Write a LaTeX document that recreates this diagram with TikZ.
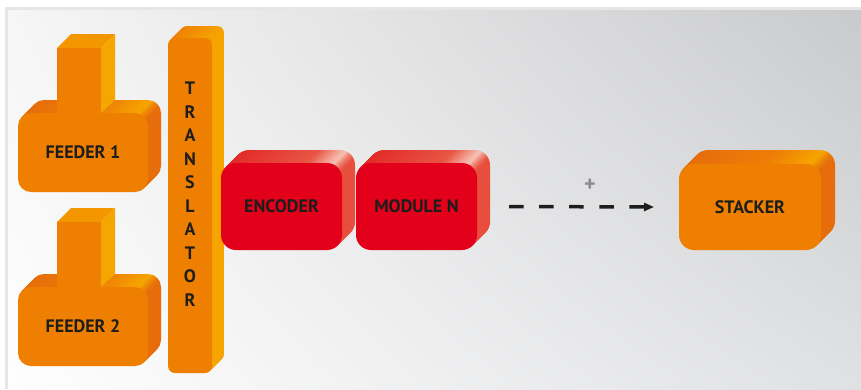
\documentclass[tikz,border=0pt]{standalone}
\usepackage{fontspec}
\setmainfont{PT Sans}
\usetikzlibrary{arrows.meta,positioning,calc,shadings}

\definecolor{ink}{RGB}{29,29,27}
\definecolor{plusGray}{RGB}{140,140,140}
\definecolor{orFront}{RGB}{239,127,0}
\definecolor{orDark}{RGB}{230,108,12}
\definecolor{orMid}{RGB}{238,126,6}
\definecolor{orLight}{RGB}{246,165,0}
\definecolor{stemTop}{RGB}{243,150,0}
\definecolor{stemSide}{RGB}{246,166,0}
\definecolor{rdFront}{RGB}{226,0,26}
\definecolor{rdDark}{RGB}{226,38,36}
\definecolor{rdMid}{RGB}{232,86,68}
\definecolor{rdLight}{RGB}{246,192,178}
\definecolor{rdSide}{RGB}{232,78,60}
\definecolor{frameGray}{RGB}{230,230,230}
\definecolor{bgTL}{RGB}{246,246,246}
\definecolor{bgTR}{RGB}{201,202,204}
\definecolor{bgBL}{RGB}{254,254,254}
\definecolor{bgBR}{RGB}{224,225,227}

\pgfdeclarehorizontalshading{orSide}{100bp}{color(0bp)=(orDark); color(25bp)=(orDark); color(55bp)=(orMid); color(71bp)=(orLight); color(74bp)=(orDark); color(100bp)=(orDark)}
\pgfdeclarehorizontalshading{rdSideSh}{100bp}{color(0bp)=(rdDark); color(25bp)=(rdDark); color(60bp)=(rdMid); color(71bp)=(rdLight); color(74bp)=(rdSide); color(100bp)=(rdSide)}
\pgfdeclarehorizontalshading{trSide}{100bp}{color(0bp)=(orMid); color(25bp)=(orMid); color(75bp)=(orLight); color(100bp)=(orLight)}

\pgfdeclarelayer{panel}
\pgfdeclarelayer{depth}
\pgfsetlayers{panel,depth,main}

% stacked copies behind a front face
\newcommand\extrude[4]{%
  \foreach \k in {#2,...,1}
    \shade[shading=#3, rounded corners=#4]
      ([shift={(\k,-\k)}]#1.south west) rectangle ([shift={(\k,-\k)}]#1.north east);}

\newcommand\stemfaces[1]{%
  \fill[stemTop] (#1.north west) -- ++(14,-14) -- ++(44,0) -- (#1.north east) -- cycle;
  \fill[stemSide] (#1.north east) -- ++(14,-14) -- ++(0,66) -- (#1.south east) -- cycle;}

\begin{document}
\begin{tikzpicture}[
  x=1pt, y=-1pt,
  lbl/.style={font=\bfseries\fontsize{18}{21}\selectfont, text=ink},
  face/.style={lbl, inner sep=0pt, outer sep=0pt, rounded corners=#1},
  orbox/.style={face=13pt, fill=orFront},
  redbox/.style={face=15pt, fill=rdFront, minimum width=121pt, minimum height=87pt},
  stembox/.style={fill=orFront, inner sep=0pt, outer sep=0pt,
    minimum width=44pt, minimum height=65pt},
  flow/.style={draw=ink, line width=3.5pt, dash pattern=on 14.5pt off 15.6pt,
    -{Triangle[length=10pt,width=8pt]}}
]
\useasboundingbox (0,0) rectangle (861,389);

\node[orbox, minimum width=130pt, minimum height=79pt] (feed1) at (83,152.5) {FEEDER 1};
\node[stembox] (stem1) at (79,80.5) {};
\node[orbox, minimum width=130pt, minimum height=79pt] (feed2) at (83,326.5) {FEEDER 2};
\node[stembox] (stem2) at (79,254.5) {};

\node[face=7pt, fill=orFront, minimum width=44pt, minimum height=335pt] (trans) at (190,205.5) {};
\node[lbl, align=center, font=\bfseries\fontsize{18}{23.5}\selectfont] (translbl) at (190,194)
  {T\\R\\A\\N\\S\\L\\A\\T\\O\\R};

\node[redbox] (enc) at (281.5,206.5) {ENCODER};
\node[redbox, right=14pt of enc] (modn) {MODULE N};
\node[face=15pt, fill=orFront, minimum width=142pt, minimum height=86pt] (stack) at (750,207) {STACKER};

\coordinate (dashS) at ([xshift=32pt]modn.east);
\coordinate (dashE) at ([xshift=-25pt]stack.west);
\draw[flow] (dashS) -- (dashE);
\node[text=plusGray, font=\bfseries\fontsize{22}{22}\selectfont] (plus) at (590,185) {+};

\begin{pgfonlayer}{depth}
  \extrude{feed1}{13}{orSide}{13pt}
  \stemfaces{stem1}
  \extrude{feed2}{13}{orSide}{13pt}
  \stemfaces{stem2}
  \extrude{trans}{12}{trSide}{7pt}
  \extrude{enc}{13}{rdSideSh}{15pt}
  \extrude{modn}{13}{rdSideSh}{15pt}
  \extrude{stack}{14}{orSide}{15pt}
\end{pgfonlayer}

\begin{pgfonlayer}{panel}
  \fill[white] (0,0) rectangle (861,389);
  \fill[frameGray] (5,7) rectangle (861,389);
  \shade[upper left=bgTL, upper right=bgTR, lower left=bgBL, lower right=bgBR]
    (8,10) rectangle (861,389);
\end{pgfonlayer}

\end{tikzpicture}
\end{document}
